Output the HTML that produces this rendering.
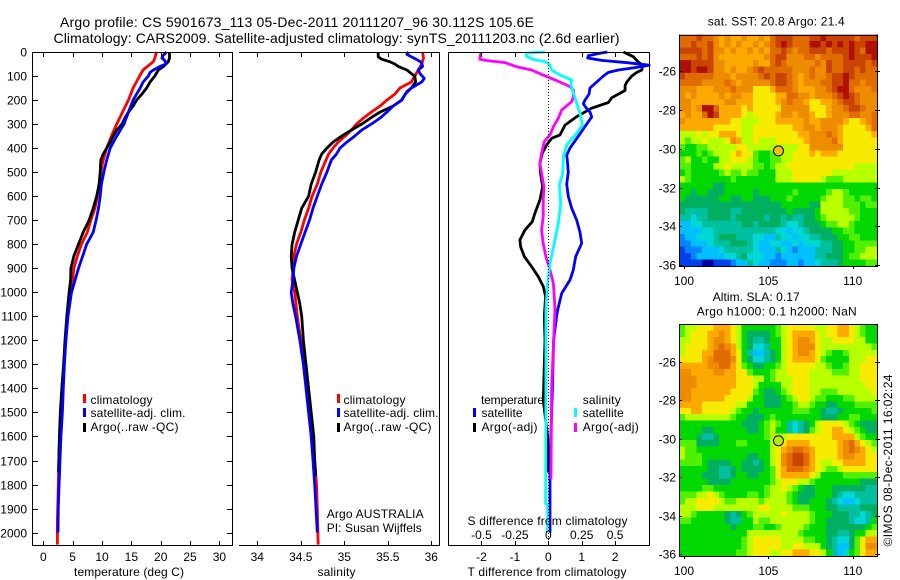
<!DOCTYPE html>
<html lang="en">
<head>
<meta charset="utf-8">
<title>Argo profile</title>
<style>
html,body{margin:0;padding:0;background:#fff;width:900px;height:580px;overflow:hidden}
svg{display:block;font-family:"Liberation Sans",sans-serif;font-size:12px;fill:#000}
</style>
</head>
<body>
<svg id="chart" xmlns="http://www.w3.org/2000/svg" width="900" height="580" viewBox="0 0 900 580">
<rect x="0" y="0" width="900" height="580" fill="#fff"/>
<g id="maps"></g>
<g id="profiles"></g>
<g id="axes"></g>
<text x="60" y="27" font-size="14" textLength="474">Argo profile: CS 5901673_113 05-Dec-2011 20111207_96 30.112S 105.6E</text>
<text x="53.5" y="43" font-size="14" textLength="566">Climatology: CARS2009. Satellite-adjusted climatology: synTS_20111203.nc (2.6d earlier)</text>

<text x="74" y="576" textLength="110">temperature (deg C)</text>
<text x="317.5" y="576" textLength="38">salinity</text>
<text x="467.5" y="576" textLength="159">T difference from climatology</text>
<text x="467.5" y="525" textLength="160">S difference from climatology</text>

<g>
<rect x="83" y="394" width="3" height="9" fill="#f00"/>
<text x="90.5" y="404" textLength="62">climatology</text>
<rect x="83" y="408" width="3" height="9" fill="#00f"/>
<text x="90.5" y="417" textLength="95">satellite-adj. clim.</text>
<rect x="83" y="423" width="3" height="9" fill="#000"/>
<text x="90.5" y="431" textLength="88">Argo(..raw -QC)</text>
</g>
<g>
<rect x="337" y="394" width="3" height="9" fill="#f00"/>
<text x="343.5" y="404" textLength="62">climatology</text>
<rect x="337" y="408" width="3" height="9" fill="#00f"/>
<text x="343.5" y="417" textLength="95">satellite-adj. clim.</text>
<rect x="337" y="423" width="3" height="9" fill="#000"/>
<text x="343.5" y="431" textLength="88">Argo(..raw -QC)</text>
</g>
<text x="326.7" y="518" textLength="97">Argo AUSTRALIA</text>
<text x="326.7" y="532" textLength="95">PI: Susan Wijffels</text>
<g>
<text x="481" y="404" textLength="63">temperature</text>
<rect x="473" y="408" width="3" height="9" fill="#00f"/>
<text x="481.5" y="417" textLength="41">satellite</text>
<rect x="473" y="423" width="3" height="9" fill="#000"/>
<text x="481.5" y="431" textLength="56">Argo(-adj)</text>
<text x="582.7" y="404" textLength="38">salinity</text>
<rect x="574" y="408" width="3" height="9" fill="#0ff"/>
<text x="582.7" y="417" textLength="41">satellite</text>
<rect x="574" y="423" width="3" height="9" fill="#f0f"/>
<text x="582.7" y="431" textLength="56">Argo(-adj)</text>
</g>
<text x="707.7" y="25.5" textLength="137">sat. SST: 20.8 Argo: 21.4</text>
<text x="712.7" y="301" textLength="87">Altim. SLA: 0.17</text>
<text x="696.7" y="315.5" textLength="160">Argo h1000: 0.1 h2000: NaN</text>
<text transform="translate(892,546.5) rotate(-90)" textLength="172">©IMOS 08-Dec-2011 16:02:24</text>
</svg>
<script>
// ---------- temperature panel ----------
const climTempDepth=[0,25,40,75,100,150,200,250,300,350,400,450,500,550,600,650,700,750,800,850,900,950,1000,1100,1200,1300,1400,1500,1650,1800,1900,1950,2050];
const climTemp=[19.3,19.0,18.75,17.0,16.4,15.3,14.5,13.5,12.5,11.6,10.8,10.2,9.8,9.5,9.2,8.8,8.1,7.5,6.5,5.8,5.2,5.0,4.7,4.15,3.8,3.55,3.3,3.1,2.7,2.55,2.45,2.4,2.4];
const satTempDepth=[0,15,25,35,50,60,75,85,100,125,150,175,200,250,300,350,400,450,500,550,600,650,700,750,800,850,900,950,1000,1100,1200,1300,1400,1500,1600,1700,1800,1900,2000];
const satTemp=[21,20.4,20.2,20.7,20.9,19.9,18.75,18.2,17.9,17,16.5,15.9,15.3,14.5,13.75,12.5,11.4,10.8,10.3,9.9,9.7,9.4,9,8.5,7.4,6.7,6,5.4,4.8,4.2,3.85,3.6,3.4,3.25,3,2.85,2.7,2.55,2.5];
const argoTempDepth=[0,25,40,60,75,100,125,150,175,200,225,250,275,300,325,350,375,400,425,450,500,550,600,650,700,750,800,850,900,950,1000,1100,1200,1300,1400,1500,1600,1750];
const argoTemp=[21.5,21.5,21.3,20.5,19.6,19,18.2,17.6,16.8,15.9,15.3,14.5,13.9,13.4,12.5,11.9,11.4,10.8,10.2,9.8,9.7,9.5,9.1,8.5,7.8,6.8,6,5.2,4.7,4.65,4.4,4.0,3.7,3.45,3.15,2.9,2.75,2.6];
const tempTicks=[0,5,10,15,20,25,30];
const depthTicks=[0,100,200,300,400,500,600,700,800,900,1000,1100,1200,1300,1400,1500,1600,1700,1800,1900,2000];
// ---------- salinity panel ----------
const climSalDepth=[0,25,50,75,100,125,150,175,200,225,250,275,300,325,350,375,400,425,450,475,500,550,600,650,700,750,800,850,900,950,1000,1100,1200,1300,1400,1500,1600,1700,1800,1900,2050];
const climSal=[35.90,35.91,35.89,35.85,35.81,35.77,35.64,35.58,35.49,35.41,35.31,35.22,35.14,35.08,35.01,34.93,34.87,34.82,34.79,34.76,34.73,34.69,34.63,34.59,34.54,34.5,34.45,34.42,34.41,34.40,34.43,34.46,34.5,34.54,34.57,34.6,34.63,34.66,34.68,34.69,34.7];
const satSalDepth=[0,10,20,35,45,60,75,90,110,125,140,150,175,200,225,250,275,300,325,350,375,400,425,450,500,550,600,650,700,750,800,850,900,950,1000,1050,1100,1200,1300,1400,1500,1600,1700,1800,1900,2000];
const satSal=[35.74,35.72,35.77,35.85,35.89,35.9,35.85,35.87,35.92,35.89,35.82,35.77,35.7,35.66,35.56,35.49,35.41,35.31,35.2,35.12,35.03,34.95,34.91,34.85,34.8,34.74,34.69,34.64,34.6,34.55,34.5,34.45,34.42,34.41,34.39,34.41,34.44,34.49,34.53,34.56,34.59,34.62,34.64,34.66,34.675,34.69];
const argoSalDepth=[0,20,30,40,50,60,75,90,100,125,150,165,200,225,250,275,300,325,350,375,400,425,450,500,550,600,650,700,750,800,850,900,950,1000,1050,1100,1200,1300,1400,1500,1600,1700,1765];
const argoSal=[35.39,35.39,35.43,35.52,35.58,35.62,35.72,35.77,35.81,35.82,35.77,35.72,35.66,35.56,35.41,35.3,35.2,35.08,34.97,34.87,34.8,34.74,34.71,34.67,34.62,34.59,34.51,34.47,34.43,34.4,34.39,34.4,34.43,34.46,34.49,34.51,34.53,34.56,34.59,34.62,34.65,34.66,34.67];
const salTicks=[34,34.5,35,35.5,36];
const salTickLabels=["34","34.5","35","35.5","36"];
// ---------- difference panel ----------
const satDTDepth=[0,5,15,25,35,45,55,65,75,85,100,125,150,175,200,215,230,250,270,300,350,400,430,450,500,550,600,650,700,750,796,851,907,949,1004,1073,1100,1200,1420,1700,2000];
const satDT=[1.77,1.55,1.2,1.18,1.6,2.4,3.02,2.6,2.1,1.8,1.65,1.45,1.25,1.22,1.1,1.05,1.12,1.25,1.3,1.15,0.9,0.65,0.55,0.57,0.6,0.55,0.6,0.7,0.85,0.95,1.0,0.82,0.75,0.65,0.4,0.28,0.25,0.16,0.12,0.05,0.05];
const argoDTDepth=[0,20,40,55,75,85,100,125,140,160,175,190,210,234,269,304,345,359,387,421,463,505,560,616,671,706,741,782,810,851,893,935,976,1018,1100,1200,1300,1450,1600,1750];
const argoDT=[2.25,2.55,2.68,2.82,2.8,2.65,2.5,2.35,2.3,2.3,2.1,1.9,1.8,1.3,0.85,0.5,0.35,0.1,-0.05,-0.18,-0.25,-0.23,-0.17,-0.25,-0.4,-0.48,-0.7,-0.85,-0.83,-0.72,-0.5,-0.3,-0.15,-0.08,-0.12,-0.1,-0.12,-0.15,-0.02,0];
const satDSDepth=[0,5,19,33,40,54,75,96,116,137,172,214,255,304,338,387,435,505,553,630,713,796,879,963,1073,1365,1880,1885,2000];
const satDS=[-0.025,-0.163,-0.163,-0.1,-0.025,0.013,0.025,0.088,0.175,0.17,0.188,0.213,0.238,0.255,0.213,0.138,0.113,0.108,0.083,0.093,0.075,0.045,0.013,-0.005,-0.018,-0.018,-0.02,-0.005,-0.005];
const argoDSDepth=[0,5,30,36,44,61,75,96,116,144,158,186,207,241,276,311,345,373,421,463,505,560,616,685,741,796,851,907,963,1018,1073,1400,1778];
const argoDS=[-0.505,-0.505,-0.513,-0.45,-0.325,-0.238,-0.125,-0.038,0.05,0.163,0.188,0.188,0.175,0.1,0.075,0.038,0.013,-0.03,-0.05,-0.063,-0.05,-0.033,-0.038,-0.038,-0.05,-0.038,-0.018,0.013,0.038,0.045,0.05,0.025,0.02];
const dTTicks=[-2,-1,0,1,2];
const dSTicks=[-0.5,-0.25,0,0.25,0.5];
const dSTickLabels=["-0.5","-0.25","0","0.25","0.5"];
// ---------- maps (colour level of each cell, north to south, west to east) ----------
const lonTicks=[100,105,110];
const latTicks=[-26,-28,-30,-32,-34,-36];
const floatLon=[105.6];
const floatLat=[-30.11];
const levelColors=["#0000a8","#0040e8","#0084ff","#00c0ff","#00d8d8","#00c0a0","#00b060","#00d800","#50f000","#b8ff00","#f8ea00","#fcaa00","#ee8c00","#e06c00","#c84400","#b01000"];
const sstLevels=[
[13,13,13,14,13,13,12,11,12,11,11,12,11,11,12,11,13,14,14,14,13,13,13,14,14,15,14,14,14,14,14,13,14,14,14],
[13,13,14,13,13,14,12,11,12,11,12,11,11,12,11,12,13,14,15,14,13,13,13,15,15,14,15,14,15,14,15,14,14,15,15],
[14,14,14,14,13,14,12,12,11,12,11,11,12,11,12,11,13,13,14,13,12,13,13,14,14,14,13,14,14,14,15,14,13,15,15],
[13,13,13,14,13,14,12,11,11,11,11,11,11,11,11,12,13,14,14,12,12,12,13,13,12,13,13,13,13,14,15,14,14,14,15],
[15,15,14,14,14,14,12,12,11,11,11,11,11,12,11,11,13,14,13,12,12,12,12,12,13,12,14,13,13,14,14,14,14,13,14],
[15,15,14,15,15,14,12,12,11,12,11,11,12,13,14,13,13,13,13,13,12,12,12,13,12,12,14,13,13,14,14,13,14,13,13],
[14,13,13,13,13,13,12,12,12,11,12,12,12,12,13,14,13,14,14,13,12,11,12,13,12,12,13,14,14,15,14,13,13,13,13],
[13,13,13,13,12,12,12,12,13,12,11,12,12,12,12,12,13,14,14,13,12,11,12,12,12,13,13,14,14,15,13,13,12,13,13],
[12,12,12,11,11,11,12,12,12,13,12,12,12,10,10,10,11,13,13,13,12,11,11,11,12,12,13,14,15,15,13,12,12,12,13],
[12,11,12,11,11,11,11,12,11,12,12,11,11,10,10,10,10,11,11,13,13,12,12,11,12,12,12,13,14,15,14,13,12,12,12],
[12,12,11,11,11,11,11,11,12,12,11,11,11,10,10,10,10,11,12,13,12,12,11,10,10,11,11,12,13,14,14,13,12,12,12],
[12,12,11,12,15,15,13,11,11,11,11,10,11,10,10,10,10,10,12,12,12,12,12,10,10,10,11,12,12,13,14,14,13,12,12],
[11,12,11,11,13,15,14,11,11,11,11,10,9,10,10,10,10,11,12,12,11,12,12,11,10,10,11,12,12,12,13,13,12,12,13],
[12,11,11,11,11,11,11,11,11,10,10,9,9,9,10,10,10,11,11,11,11,11,12,11,11,12,12,12,12,11,10,10,11,12,13],
[11,11,11,11,11,11,10,10,10,10,10,9,9,10,10,10,10,10,10,10,11,11,12,12,11,12,12,12,11,10,10,10,10,11,13],
[9,9,9,10,9,10,10,11,11,11,10,9,9,10,10,10,10,10,10,10,10,11,11,12,12,12,13,12,11,10,10,10,10,10,11],
[9,8,9,9,10,9,9,9,10,12,11,9,9,10,9,9,9,10,10,10,10,10,11,12,12,12,12,13,11,10,10,10,10,10,10],
[8,7,7,8,8,9,9,9,9,9,10,10,9,9,9,9,9,9,9,9,9,10,10,12,12,12,12,12,12,10,10,10,10,10,10],
[7,7,7,8,7,8,9,9,9,10,11,10,10,8,7,7,8,9,9,9,10,10,10,11,10,11,11,11,10,10,10,10,10,10,10],
[8,9,7,7,8,7,7,9,9,10,10,10,9,8,7,7,8,8,9,9,10,10,10,10,10,10,10,10,10,10,10,10,10,10,10],
[8,8,7,7,7,7,9,9,10,9,9,9,9,8,8,7,8,9,9,10,10,10,10,10,10,10,10,10,10,10,10,9,9,9,9],
[7,8,7,7,7,7,7,8,9,8,8,9,8,8,7,7,7,9,9,9,10,10,10,10,10,10,10,9,9,9,9,9,9,9,9],
[9,8,7,7,7,7,7,7,7,8,7,7,7,7,7,7,7,9,9,9,10,10,10,10,10,9,8,8,8,9,9,9,9,9,9],
[7,7,7,7,7,7,6,6,7,7,7,7,7,7,7,7,7,7,7,7,7,7,7,7,7,7,7,7,7,7,7,7,7,7,7],
[7,7,6,7,7,6,6,6,7,7,7,7,7,6,7,7,7,7,7,7,8,7,7,7,7,7,8,9,9,8,7,7,7,7,7],
[7,6,6,6,6,6,6,7,7,6,6,7,7,6,6,6,7,7,7,8,7,7,7,7,7,8,9,9,9,8,8,7,8,8,7],
[6,6,6,6,6,6,6,6,6,6,6,6,6,6,6,6,6,6,7,7,7,7,7,6,6,9,9,9,9,8,8,8,7,8,8],
[6,5,5,5,5,6,6,6,6,5,5,6,6,6,6,6,6,6,6,7,6,6,6,6,7,9,9,9,9,9,8,8,7,7,7],
[5,5,4,5,5,6,6,6,6,5,6,6,6,6,6,5,6,6,5,6,5,5,6,6,7,8,9,9,9,9,9,8,7,7,7],
[3,3,4,4,5,5,5,5,5,5,5,6,6,5,6,6,6,6,5,4,4,5,6,6,6,7,8,8,9,9,8,7,7,7,7],
[3,3,3,3,4,4,5,5,5,5,5,5,5,5,5,5,5,4,4,3,4,4,5,6,6,6,6,7,7,8,8,7,7,7,7],
[2,3,3,4,4,4,5,6,6,6,5,5,5,4,4,3,3,5,4,4,3,4,4,5,5,6,6,6,7,7,8,8,7,7,7],
[2,2,3,3,3,4,5,5,5,6,6,6,5,4,3,3,4,4,3,3,4,3,4,4,4,5,5,6,6,7,7,8,8,8,8],
[1,2,2,2,3,3,3,4,5,5,5,5,5,4,3,3,3,5,4,3,2,3,3,3,5,5,5,6,6,7,7,8,8,9,9],
[1,1,2,3,3,3,3,3,4,4,5,6,4,4,4,3,3,2,3,3,3,3,3,3,5,5,6,6,6,7,8,8,9,9,9],
[1,1,1,1,0,0,1,1,1,2,3,3,5,4,3,3,2,2,2,3,3,2,3,3,4,5,5,5,6,7,7,7,7,8,8]
];
const slaLevels=[
[8,9,9,10,10,10,11,11,11,10,9,7,7,7,7,7,7,8,9,10,10,10,10,10,9,9,10,10,11,11,10,9,8,7,7],
[8,9,10,10,10,11,11,12,11,10,9,7,6,6,6,6,7,8,9,10,11,11,11,11,10,9,10,10,11,11,10,9,8,7,7],
[9,9,10,10,10,11,12,12,11,10,9,7,6,5,5,6,7,7,9,10,11,12,12,11,10,9,9,10,10,10,10,9,9,7,7],
[9,10,10,10,10,11,12,13,12,11,9,7,6,4,4,5,7,7,9,10,11,12,12,12,10,9,9,9,9,9,9,9,9,9,8],
[9,10,10,10,11,11,13,13,13,11,10,7,5,3,3,5,6,7,9,10,11,12,12,11,10,9,8,7,7,8,9,9,9,9,9],
[10,10,10,10,11,12,13,13,13,12,10,7,6,4,4,5,6,7,9,10,11,11,11,11,10,8,7,7,7,7,9,9,9,10,10],
[11,11,11,11,11,12,12,13,13,11,10,8,7,6,6,7,7,8,9,10,10,10,10,10,9,9,8,7,7,8,9,9,10,10,10],
[12,12,11,11,11,11,12,12,11,11,10,10,8,7,7,7,8,9,9,10,10,10,10,9,9,9,9,8,8,8,9,9,10,10,10],
[12,12,12,11,11,11,11,11,11,11,10,10,10,9,9,7,8,9,9,9,10,10,10,9,9,9,9,9,9,9,9,9,10,10,10],
[12,12,12,11,11,11,11,11,11,11,10,10,10,9,7,7,7,7,9,9,10,10,10,9,9,9,9,9,9,9,9,9,9,10,10],
[12,12,11,11,11,11,11,11,11,10,10,10,10,8,7,6,6,7,8,9,10,10,10,9,9,8,8,8,9,9,9,9,9,9,10],
[12,12,11,11,11,11,11,11,10,10,10,10,9,7,7,6,6,6,7,8,9,10,10,9,8,8,7,7,7,8,8,9,9,9,9],
[11,11,11,11,10,10,10,10,10,10,9,9,7,7,7,6,6,6,7,7,8,9,9,8,7,7,6,6,7,7,7,8,8,8,8],
[10,10,11,11,10,10,10,10,10,9,8,7,7,6,7,7,7,7,7,7,8,8,8,7,7,6,5,5,6,7,7,7,7,7,8],
[8,9,9,9,9,9,9,9,9,8,7,7,6,6,6,7,8,7,7,7,7,7,7,7,7,6,6,6,7,7,8,8,7,7,7],
[7,7,7,7,7,7,7,7,7,7,7,6,6,6,7,8,9,8,7,5,4,5,6,7,9,10,10,10,10,9,8,7,6,6,6],
[7,7,7,7,6,6,7,7,7,7,7,7,6,6,7,8,9,7,7,5,4,5,6,8,9,10,10,11,11,10,9,8,7,6,6],
[7,7,7,6,5,5,6,7,7,7,7,7,7,7,7,8,9,9,9,10,10,10,10,10,10,10,10,11,11,11,11,9,8,7,7],
[8,8,8,6,6,6,6,7,7,7,8,8,7,7,7,7,9,9,10,11,11,11,11,10,10,10,10,10,11,12,13,11,10,9,8],
[9,8,8,7,7,7,7,7,7,7,7,7,7,7,7,7,9,10,11,12,13,13,12,11,10,10,10,10,11,12,13,12,11,10,9],
[9,8,8,8,7,7,7,7,7,7,7,7,6,6,7,7,9,10,12,13,14,14,13,11,10,10,10,10,11,12,12,11,11,10,10],
[8,8,8,8,7,6,6,6,6,7,7,6,6,5,6,7,9,10,12,13,14,14,13,11,10,9,9,10,10,11,11,11,11,10,10],
[7,7,7,7,7,6,6,5,5,6,7,6,6,6,6,7,8,10,11,13,13,13,12,11,10,9,8,8,9,10,10,10,10,10,10],
[7,7,7,7,6,6,6,5,5,6,7,7,6,6,7,7,8,10,11,11,11,11,11,10,9,7,7,7,7,8,8,8,8,8,8],
[7,7,7,7,7,6,6,6,6,7,7,7,7,7,7,7,8,9,10,10,10,9,9,8,7,7,7,7,7,7,7,7,6,6,6],
[7,7,7,7,8,8,7,7,7,7,7,7,7,7,7,8,9,9,10,9,8,7,6,6,7,7,7,6,6,6,6,6,6,5,5],
[8,8,8,9,9,10,9,8,7,7,7,7,8,8,7,8,9,9,9,8,7,6,6,6,7,7,7,6,5,4,4,5,5,5,5],
[8,9,9,10,10,10,10,9,8,8,9,9,9,9,8,9,9,9,9,8,7,6,6,7,7,7,6,5,4,3,3,4,5,5,5],
[9,9,9,10,10,10,9,9,9,9,9,9,9,9,10,10,9,9,9,9,8,8,8,7,7,7,6,6,5,5,5,5,6,6,6],
[9,9,8,7,7,7,7,7,6,5,6,7,8,9,9,9,9,9,10,9,9,9,9,8,7,7,7,6,6,6,5,5,4,5,6],
[8,8,7,7,7,7,7,7,6,5,5,7,7,9,8,8,9,9,9,9,9,9,9,8,7,7,6,6,6,6,5,4,4,5,7],
[7,7,7,7,7,7,7,7,7,6,7,7,7,8,8,7,7,8,9,9,9,9,8,7,7,7,6,6,6,6,6,6,6,7,8],
[7,7,7,7,7,7,7,7,7,7,7,7,9,9,9,9,9,9,9,9,9,8,7,7,7,7,6,6,5,5,6,7,7,9,9],
[7,7,7,7,7,7,7,7,7,7,7,8,9,10,10,10,10,10,9,9,9,9,8,8,7,7,6,5,4,4,6,8,10,11,11],
[7,7,7,7,7,7,7,7,7,7,7,8,9,10,10,10,10,10,9,9,10,10,9,9,9,7,6,5,3,3,6,8,10,12,12],
[7,7,7,7,7,7,7,7,7,7,8,8,9,10,10,10,9,9,10,10,11,11,11,10,10,9,7,5,3,4,7,8,10,11,11]
];

const NS='http://www.w3.org/2000/svg';
function mk(parent,tag,props,name){
  const el=document.createElementNS(NS,tag);
  for(const k in props){el.setAttribute(k,props[k]);}
  
  
  parent.appendChild(el);
  return el;
}
function label(parent,x,y,str,anchor,name){
  const t=mk(parent,'text',{x:x,y:y,'text-anchor':anchor},name);
  t.textContent=str;
  return t;
}
const axesG=document.getElementById('axes');
const profG=document.getElementById('profiles');
const mapsG=document.getElementById('maps');

// shared depth axis
const TOP=52, BOT=545;
function yDepth(d){return TOP+d*0.2403;}
// x axes
function xTemp(t){return 43.3+t*5.87;}
function xSal(s){return 257.3+(s-34)*87;}
function xDT(t){return 548.3+t*33.4;}
function xDS(s){return 548.3+s*133.6;}

function hline(p,x1,x2,y,name){mk(p,'line',{x1:x1,x2:x2,y1:y,y2:y,stroke:'#000','stroke-width':1,'shape-rendering':'crispEdges'},name);}
function vline(p,x,y1,y2,name){mk(p,'line',{x1:x,x2:x,y1:y1,y2:y2,stroke:'#000','stroke-width':1,'shape-rendering':'crispEdges'},name);}

function drawLine(depths,vals,xf,color,name){
  let d='';
  for(let i=0;i<depths.length;i++){d+=(i?'L':'M')+xf(vals[i]).toFixed(1)+' '+yDepth(depths[i]).toFixed(1);}
  mk(profG,'path',{d:d,fill:'none',stroke:color,'stroke-width':2.8,'stroke-linejoin':'round','stroke-linecap':'butt'},name);
}

// panel 1 axes
hline(axesG,32,232.5,52.5,'temperature-top-axis');
hline(axesG,32,232.5,545.5,'temperature-bottom-axis');
vline(axesG,32.5,52,546,'temperature-left-axis');
vline(axesG,232.5,52,546,'temperature-right-axis');
depthTicks.forEach(function(d){
  const y=Math.round(yDepth(d))+0.5;
  hline(axesG,33,38,y,'depth-tick-left');
  hline(axesG,227,232,y,'depth-tick-right');
  label(axesG,27,y+4,String(d),'end','depth-tick-label');
});
tempTicks.forEach(function(t){
  const x=Math.round(xTemp(t))+0.5;
  vline(axesG,x,53,57,'temperature-tick-top');
  vline(axesG,x,541,545,'temperature-tick-bottom');
  label(axesG,xTemp(t),561,String(t),'middle','temperature-tick-label');
});
// panel 2 axes
hline(axesG,239,440,52.5,'salinity-top-axis');
hline(axesG,239,440,545.5,'salinity-bottom-axis');
vline(axesG,439.5,52,546,'salinity-right-axis');
salTicks.forEach(function(s,i){
  const x=Math.round(xSal(s))+0.5;
  vline(axesG,x,53,57,'salinity-tick-top');
  vline(axesG,x,541,545,'salinity-tick-bottom');
  label(axesG,xSal(s),561,salTickLabels[i],'middle','salinity-tick-label');
});
// panel 3 axes
hline(axesG,448,650,52.5,'difference-top-axis');
hline(axesG,448,650,545.5,'difference-bottom-axis');
vline(axesG,448.5,52,546,'difference-left-axis');
vline(axesG,649.5,52,546,'difference-right-axis');
dTTicks.forEach(function(t){
  const x=Math.round(xDT(t))+0.5;
  vline(axesG,x,53,57,'t-difference-tick-top');
  vline(axesG,x,541,545,'t-difference-tick-bottom');
  label(axesG,xDT(t),561,String(t),'middle','t-difference-tick-label');
});
dSTicks.forEach(function(s,i){
  label(axesG,xDS(s),539,dSTickLabels[i],'middle','s-difference-tick-label');
});
mk(axesG,'line',{x1:548.5,x2:548.5,y1:53,y2:545,stroke:'#000','stroke-width':1,'stroke-dasharray':'1 2'},'zero-difference-line');

// profile series
drawLine(climTempDepth,climTemp,xTemp,'#f00','temperature-climatology-line');
drawLine(argoTempDepth,argoTemp,xTemp,'#000','temperature-argo-line');
drawLine(satTempDepth,satTemp,xTemp,'#00f','temperature-satellite-line');
drawLine(climSalDepth,climSal,xSal,'#f00','salinity-climatology-line');
drawLine(argoSalDepth,argoSal,xSal,'#000','salinity-argo-line');
drawLine(satSalDepth,satSal,xSal,'#00f','salinity-satellite-line');
drawLine(argoDTDepth,argoDT,xDT,'#000','t-difference-argo-line');
drawLine(satDTDepth,satDT,xDT,'#00f','t-difference-satellite-line');
drawLine(argoDSDepth,argoDS,xDS,'#f0f','s-difference-argo-line');
drawLine(satDSDepth,satDS,xDS,'#0ff','s-difference-satellite-line');

// maps
function lonX(lon){return 684+(lon-100)*16.87;}
function drawMap(levels,top,bottom,lat26,pxPerDeg,cellName,prefix,circleFill){
  function latY(lat){return lat26+(-26-lat)*pxPerDeg;}
  const left=679.5, right=877;
  const colW=(right-left)/levels[0].length;
  const rowH=(bottom-top)/levels.length;
  levels.forEach(function(row,r){
    row.forEach(function(v,c){
      mk(mapsG,'rect',{x:(left+c*colW).toFixed(2),y:(top+r*rowH).toFixed(2),width:(colW+0.4).toFixed(2),height:(rowH+0.4).toFixed(2),fill:levelColors[v],'shape-rendering':'crispEdges'},cellName);
    });
  });
  hline(mapsG,679,878,Math.round(top)+0.5,prefix+'-top-axis');
  hline(mapsG,679,878,Math.round(bottom)+0.5,prefix+'-bottom-axis');
  vline(mapsG,679.5,top,bottom+1,prefix+'-left-axis');
  vline(mapsG,877.5,top,bottom+1,prefix+'-right-axis');
  lonTicks.forEach(function(lon){
    const x=Math.round(lonX(lon))+0.5;
    vline(mapsG,x,bottom,bottom+3,prefix+'-lon-tick');
    label(mapsG,lonX(lon),bottom+19,String(lon),'middle',prefix+'-lon-label');
  });
  latTicks.forEach(function(lat){
    const y=Math.round(latY(lat))+0.5;
    hline(mapsG,680,682,y,prefix+'-lat-tick');
    hline(mapsG,875,880,y,prefix+'-lat-tick');
    label(mapsG,676,y+4,String(lat),'end',prefix+'-lat-label');
  });
  mk(mapsG,'circle',{cx:lonX(floatLon[0]),cy:latY(floatLat[0]),r:5,fill:circleFill,stroke:'#000','stroke-width':1},prefix+'-float-marker');
}
drawMap(sstLevels,34.5,266,71.3,19.37,'sst-cell','sst-map','#f5c000');
drawMap(slaLevels,324,556,361.7,19.23,'sla-cell','sla-map','#b4f000');
</script>
</body>
</html>
